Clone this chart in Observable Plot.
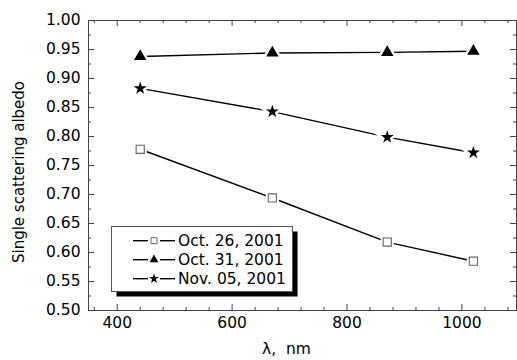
<!DOCTYPE html>
<html><head><meta charset="utf-8">
<script src="https://cdn.jsdelivr.net/npm/d3@7"></script>
<script src="https://cdn.jsdelivr.net/npm/@observablehq/plot@0.6"></script>
<style>
body{margin:0;background:#fff;}
#wrap{position:relative;width:517px;height:360px;font-family:"DejaVu Sans",sans-serif;}
#wrap svg{display:block;}
#legend{position:absolute;left:0;top:0;pointer-events:none;}
</style></head><body><div id="wrap"></div>
<script>
// ---- data ----
const wavelengths = [440, 670, 870, 1020];
const seriesNames = ["Oct. 26, 2001", "Oct. 31, 2001", "Nov. 05, 2001"];
const oct26 = [0.778, 0.694, 0.618, 0.585];
const oct31 = [0.938, 0.944, 0.945, 0.947];
const nov05 = [0.883, 0.843, 0.799, 0.772];
const xTickLabels = [400, 600, 800, 1000];
const yTickLabels = [0.50, 0.55, 0.60, 0.65, 0.70, 0.75, 0.80, 0.85, 0.90, 0.95, 1.00];
const xLabel = "λ,\u00a0 nm";
const yLabel = "Single scattering albedo";

// ---- layout ----
const W = 517, H = 360, mL = 88, mR = 1, mT = 20, mB = 50;
const pw = W - mL - mR, ph = H - mT - mB;
const xMinor = d3.range(360, 1095, 40).filter(d => !xTickLabels.includes(d));
const yMinor = d3.range(0.525, 1.0, 0.05);

const values = [oct26, oct31, nov05];
const rows = seriesNames.flatMap((s, i) => wavelengths.map((w, j) => ({series: s, x: w, y: values[i][j]})));
const bySeries = s => rows.filter(d => d.series === s);

const frameCol = "#444";
const chart = Plot.plot({
  width: W, height: H,
  marginLeft: mL, marginRight: mR, marginTop: mT, marginBottom: mB,
  style: {fontFamily: "DejaVu Sans", fontSize: "15.5px", color: "#000", background: "#fff"},
  x: {domain: [350, 1095]},
  y: {domain: [0.5, 1.0]},
  marks: [
    Plot.tickX(xTickLabels, {x: d => d, insetTop: ph - 6, stroke: frameCol}),
    Plot.tickX(xTickLabels, {x: d => d, insetBottom: ph - 6, stroke: frameCol}),
    Plot.tickX(xMinor, {x: d => d, insetTop: ph - 3, stroke: frameCol}),
    Plot.tickX(xMinor, {x: d => d, insetBottom: ph - 3, stroke: frameCol}),
    Plot.tickY(yTickLabels, {y: d => d, insetRight: pw - 6, stroke: frameCol}),
    Plot.tickY(yTickLabels, {y: d => d, insetLeft: pw - 6, stroke: frameCol}),
    Plot.tickY(yMinor, {y: d => d, insetRight: pw - 3, stroke: frameCol}),
    Plot.tickY(yMinor, {y: d => d, insetLeft: pw - 3, stroke: frameCol}),
    Plot.frame({stroke: frameCol}),
    Plot.axisX(xTickLabels, {tickSize: 0, tickPadding: 6, label: null, tickFormat: d3.format("d"), fontSize: 15.5}),
    Plot.axisY(yTickLabels, {tickSize: 0, tickPadding: 8, label: null, tickFormat: d3.format(".2f"), fontSize: 15.5}),
    Plot.line(rows, {x: "x", y: "y", z: "series", stroke: "#000", strokeWidth: 1.4}),
    Plot.dot(bySeries(seriesNames[0]), {x: "x", y: "y", symbol: "square", r: 4.6, fill: "#fff", stroke: "#fff", strokeWidth: 5}),
    Plot.dot(bySeries(seriesNames[1]), {x: "x", y: "y", symbol: "triangle", r: 4.6, fill: "#fff", stroke: "#fff", strokeWidth: 5}),
    Plot.dot(bySeries(seriesNames[2]), {x: "x", y: "y", symbol: "star", r: 4.1, fill: "#fff", stroke: "#fff", strokeWidth: 5}),
    Plot.dot(bySeries(seriesNames[0]), {x: "x", y: "y", symbol: "square", r: 4.6, fill: "#fff", stroke: "#666", strokeWidth: 1.1}),
    Plot.dot(bySeries(seriesNames[1]), {x: "x", y: "y", symbol: "triangle", r: 4.6, fill: "#000", stroke: "none"}),
    Plot.dot(bySeries(seriesNames[2]), {x: "x", y: "y", symbol: "star", r: 4.1, fill: "#000", stroke: "none"}),
    Plot.text([yLabel], {text: d => d, frameAnchor: "left", rotate: -90, textAnchor: "middle", lineAnchor: "top", dx: -75, dy: 6.5, fontSize: 15}),
    Plot.text([xLabel], {text: d => d, frameAnchor: "bottom", textAnchor: "middle", lineAnchor: "middle", dx: -16, dy: 39, fontSize: 15.5})
  ]
});
document.getElementById("wrap").appendChild(chart);

// ---- legend overlay ----
const lg = d3.select("#wrap").append("svg").attr("id", "legend").attr("width", W).attr("height", H);
const box = {x: 111.5, y: 226.5, w: 181, h: 65};
lg.append("rect").attr("x", box.x + 5).attr("y", box.y + 5).attr("width", box.w).attr("height", box.h).attr("fill", "#000");
lg.append("rect").attr("x", box.x).attr("y", box.y).attr("width", box.w).attr("height", box.h).attr("fill", "#fff").attr("stroke", "#555");
const legSym = [
  {type: d3.symbolSquare, size: 36, fill: "#fff", stroke: "#666"},
  {type: d3.symbolTriangle, size: 34, fill: "#000", stroke: "none"},
  {type: d3.symbolStar, size: 30, fill: "#000", stroke: "none"}
];
seriesNames.forEach((s, i) => {
  const cy = 240.7 + i * 19;
  lg.append("line").attr("x1", 133).attr("x2", 148).attr("y1", cy).attr("y2", cy).attr("stroke", "#000").attr("stroke-width", 1.4);
  lg.append("line").attr("x1", 160).attr("x2", 175).attr("y1", cy).attr("y2", cy).attr("stroke", "#000").attr("stroke-width", 1.4);
  lg.append("path").attr("d", d3.symbol(legSym[i].type, legSym[i].size)()).attr("transform", `translate(154,${cy})`)
    .attr("fill", legSym[i].fill).attr("stroke", legSym[i].stroke);
  lg.append("text").attr("x", 178).attr("y", cy + 5.6).attr("font-family", "DejaVu Sans").attr("font-size", 15.5).attr("fill", "#000").text(s);
});
</script>
</body></html>
